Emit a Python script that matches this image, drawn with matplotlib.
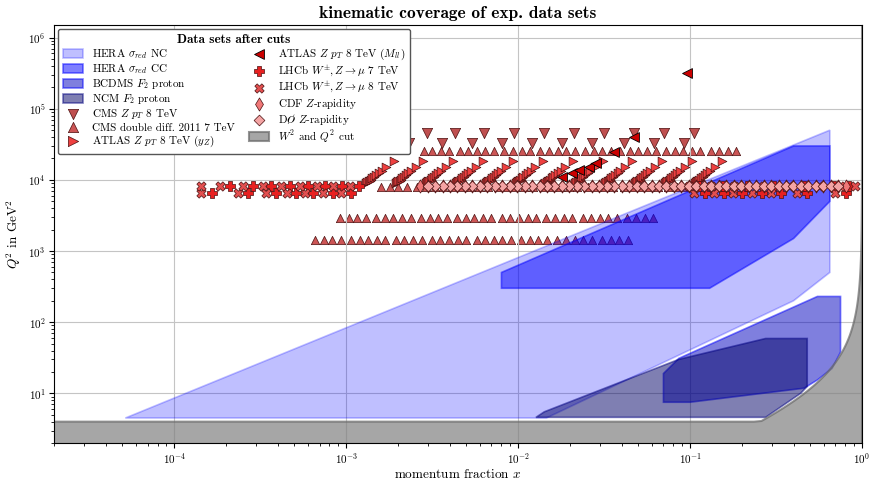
import numpy as np
import matplotlib.pyplot as plt

plt.rcParams['font.family'] = ['cmr10', 'DejaVu Serif']
plt.rcParams['mathtext.fontset'] = 'cm'
plt.rcParams['axes.formatter.use_mathtext'] = True

# ---- DIS coverage regions: polygon corners in (x, Q2) ----
hera_nc_x = [5.2e-5, 1.46e-2, 0.40, 0.65, 0.65]
hera_nc_q2 = [4.5, 4.5, 200, 500, 5.0e4]
hera_cc_x = [8.0e-3, 8.0e-3, 0.13, 0.40, 0.65, 0.65, 0.40]
hera_cc_q2 = [500, 300, 300, 1500, 5000, 3.0e4, 3.0e4]
bcdms_x = [0.07, 0.07, 0.10, 0.46, 0.55, 0.67, 0.75, 0.75, 0.55, 0.086]
bcdms_q2 = [19, 7.5, 7.5, 11.8, 15.4, 22.4, 38, 230, 230, 31]
nmc_x = [0.0127, 0.0142, 0.086, 0.275, 0.48, 0.48, 0.44, 0.275]
nmc_q2 = [4.6, 5.5, 30, 59, 59, 12.5, 10, 4.6]

# kinematic cuts
q2_cut = 4.0
w2_cut = 12.5
mp2 = 0.88

# ---- CMS double differential 2011 7 TeV (one row per mass bin) ----
cms2d_q2 = [1420, 2900, 7950, 25500]
cms2d_xc = [5.35e-3, 7.5e-3, 1.30e-2, 2.29e-2]
cms2d_dlog = [-0.91, -0.86, -0.81, -0.76, -0.70, -0.65, -0.60, -0.55, -0.50,
              -0.44, -0.39, -0.34, -0.29, -0.23, -0.18, -0.13, -0.08, -0.03,
              0.03, 0.08, 0.13, 0.18, 0.23, 0.29, 0.34, 0.39, 0.44, 0.50,
              0.55, 0.60, 0.65, 0.70, 0.76, 0.81, 0.86, 0.91]

# ---- CMS Z pT 8 TeV ----
cms_pt_x_hi = [1.99e-3, 2.97e-3, 4.32e-3, 6.37e-3, 9.51e-3, 1.42e-2, 2.12e-2,
               3.16e-2, 4.72e-2, 7.05e-2, 1.05e-1]
cms_pt_x_lo = [1.56e-3, 2.33e-3, 3.63e-3, 5.42e-3, 8.09e-3, 1.21e-2, 1.81e-2,
               2.70e-2, 4.14e-2, 6.18e-2, 9.23e-2]
cms_pt_q2 = [4.53e4, 3.27e4]

# ---- ATLAS Z pT 8 TeV (y_Z): one streak per rapidity bin ----
atlas_yz_x0 = [1.265e-3, 1.884e-3, 2.81e-3, 4.20e-3, 6.27e-3, 9.33e-3,
               1.393e-2, 2.075e-2, 3.10e-2, 4.62e-2, 6.90e-2, 1.028e-1]
atlas_yz_q2 = [8900, 9200, 9500, 9800, 10100, 10500, 11000, 11650, 12400,
               13400, 15200, 18500]
atlas_yz_shift = [1.035, 1.052, 1.069, 1.086, 1.102, 1.124, 1.150, 1.184,
                  1.221, 1.269, 1.352, 1.492]

# ---- ATLAS Z pT 8 TeV (M_ll) ----
atlas_mll_x = [0.0181, 0.0206, 0.0226, 0.0259, 0.0284, 0.0362, 0.0472, 0.096]
atlas_mll_q2 = [11000, 12300, 13650, 15070, 17200, 24500, 39800, 3.16e5]

# ---- LHCb W/Z -> mu ----
lhcb_q2_w = 6464
lhcb_q2_z = 8315
lhcb7_w_x = [1.65e-4, 2.69e-4, 3.93e-4, 5.14e-4, 6.41e-4, 8.38e-4, 1.07e-3,
             0.122, 0.157, 0.201, 0.261, 0.336, 0.480, 0.802]
lhcb7_z_x = [2.10e-4, 2.88e-4, 3.68e-4, 4.70e-4, 6.00e-4, 7.50e-4, 9.42e-4,
             1.18e-3, 0.113, 0.155, 0.214, 0.307, 0.458, 0.685, 0.838]
lhcb8_w_x = [1.44e-4, 2.36e-4, 3.44e-4, 4.50e-4, 5.74e-4, 7.33e-4, 9.38e-4,
             0.105, 0.138, 0.177, 0.230, 0.294, 0.420, 0.701]
lhcb8_z_x = [1.44e-4, 1.84e-4, 2.52e-4, 3.29e-4, 4.20e-4, 5.37e-4, 6.73e-4,
             8.34e-4, 1.05e-3, 0.0986, 0.132, 0.180, 0.251, 0.375, 0.561,
             0.740, 0.916]

# ---- Tevatron Z rapidity ----
tev_q2 = 8315
tev_xc = 0.0465
cdf_dlog = [0.022, 0.065, 0.109, 0.152, 0.195, 0.239, 0.282, 0.326, 0.369,
            0.412, 0.456, 0.499, 0.543, 0.586, 0.630, 0.673, 0.716, 0.760,
            0.803, 0.847, 0.890, 0.934, 0.977, 1.020, 1.064, 1.107, 1.151,
            1.194, 1.238]
d0_dlog = [0.022, 0.065, 0.109, 0.152, 0.195, 0.239, 0.282, 0.326, 0.369,
           0.412, 0.456, 0.499, 0.543, 0.586, 0.630, 0.673, 0.716, 0.760,
           0.803, 0.847, 0.890, 0.934, 0.977, 1.020, 1.064, 1.107, 1.151,
           1.194]

fig = plt.figure(figsize=(8.71, 4.79), dpi=100)
ax = fig.add_axes([0.062, 0.075, 0.9277, 0.8727])

edge = '#4a1010'

# CMS 2D sits underneath the DIS regions
for q2, xc in zip(cms2d_q2, cms2d_xc):
    xs = xc * 10 ** np.array(cms2d_dlog)
    ax.scatter(xs, np.full(len(xs), q2), marker='^', s=36, c='#cc5555',
               edgecolors=edge, linewidths=0.5, zorder=1)

# DIS regions
ax.fill(hera_nc_x, hera_nc_q2, facecolor='blue', edgecolor='blue', alpha=0.25,
        lw=1.2, zorder=2, label=r'HERA $\sigma_{red}$ NC')
ax.fill(hera_cc_x, hera_cc_q2, facecolor='blue', edgecolor='blue', alpha=0.5,
        lw=1.2, zorder=2, label=r'HERA $\sigma_{red}$ CC')
ax.fill(bcdms_x, bcdms_q2, facecolor=(0, 0, 0.75), edgecolor='blue', alpha=0.5,
        lw=1.2, zorder=2, label=r'BCDMS $F_2$ proton')
ax.fill(nmc_x, nmc_q2, facecolor=(0, 0, 0.4), edgecolor='navy', alpha=0.5,
        lw=1.2, zorder=2, label=r'NCM $F_2$ proton')

# CMS Z pT
ax.scatter(cms_pt_x_hi, [cms_pt_q2[0]] * len(cms_pt_x_hi), marker='v', s=55,
           c='#bf4f4f', edgecolors=edge, linewidths=0.5, zorder=3,
           label=r'CMS $Z$ $p_T$ 8 TeV')
ax.scatter(cms_pt_x_lo, [cms_pt_q2[1]] * len(cms_pt_x_lo), marker='v', s=55,
           c='#bf4f4f', edgecolors=edge, linewidths=0.5, zorder=3)
# legend proxy for CMS 2D
ax.scatter([], [], marker='^', s=55, c='#cc5555', edgecolors=edge,
           linewidths=0.5, label='CMS double diff. 2011 7 TeV')

# ATLAS y_Z streaks
for x0 in atlas_yz_x0:
    ax.scatter(x0 * np.array(atlas_yz_shift), atlas_yz_q2, marker='>', s=40,
               c='#ee4040', edgecolors=edge, linewidths=0.5, zorder=3)
ax.scatter([], [], marker='>', s=55, c='#ee4040', edgecolors=edge,
           linewidths=0.5, label=r'ATLAS $Z$ $p_T$ 8 TeV $(y_Z)$')

ax.scatter(atlas_mll_x, atlas_mll_q2, marker='<', s=50, c='#cc0000',
           edgecolors='k', linewidths=0.6, zorder=4,
           label=r'ATLAS $Z$ $p_T$ 8 TeV $(M_{ll})$')

ax.scatter(lhcb7_w_x + lhcb7_z_x,
           [lhcb_q2_w] * len(lhcb7_w_x) + [lhcb_q2_z] * len(lhcb7_z_x),
           marker='P', s=45, c='#e82020', edgecolors=edge, linewidths=0.5,
           zorder=4, label=r'LHCb $W^{\pm},Z \rightarrow \mu$ 7 TeV')
ax.scatter(lhcb8_w_x + lhcb8_z_x,
           [lhcb_q2_w] * len(lhcb8_w_x) + [lhcb_q2_z] * len(lhcb8_z_x),
           marker='X', s=45, c='#e35050', edgecolors=edge, linewidths=0.5,
           zorder=4, label=r'LHCb $W^{\pm},Z \rightarrow \mu$ 8 TeV')

cdf_x = tev_xc * 10 ** np.concatenate([-np.array(cdf_dlog), cdf_dlog])
d0_x = tev_xc * 10 ** np.concatenate([-np.array(d0_dlog), d0_dlog])
ax.scatter(cdf_x, np.full(len(cdf_x), tev_q2), marker='d', s=45, c='#f07878',
           edgecolors=edge, linewidths=0.5, zorder=5, label=r'CDF $Z$-rapidity')
ax.scatter(d0_x, np.full(len(d0_x), tev_q2), marker='D', s=30, c='#f4a4a4',
           edgecolors=edge, linewidths=0.5, zorder=5,
           label=r'D$\O$ $Z$-rapidity')

# W2 / Q2 cut
xs = np.concatenate([np.logspace(-4.7, -0.5, 100),
                     1 - np.logspace(np.log10(1 - 10 ** -0.5), -8, 400)])
cut = np.maximum(q2_cut, (w2_cut - mp2) * xs / (1 - xs))
ax.fill_between(xs, 1, np.minimum(cut, 1e8), facecolor='gray',
                edgecolor='dimgray', alpha=0.7, lw=1.5, zorder=2,
                label=r'$W^2$ and $Q^2$ cut')

ax.set_xscale('log')
ax.set_yscale('log')
ax.set_xlim(2e-5, 1)
ax.set_ylim(2, 1.5e6)
ax.grid(True, which='major', color='#c4c4c4', lw=0.8)
ax.tick_params(which='major', length=3.5, labelsize=8, pad=2.5)
ax.tick_params(which='minor', length=2)
ax.set_xlabel(r'momentum fraction $x$', fontsize=9.5, labelpad=1)
ax.set_ylabel(r'$Q^2$ in GeV$^2$', fontsize=9.5, labelpad=4)
ax.set_title('kinematic coverage of exp. data sets', fontsize=12.5,
             fontfamily='cmb10', pad=5)

leg = ax.legend(loc='upper left', ncol=2, fontsize=8, scatterpoints=1,
                title='Data sets after cuts', labelspacing=0.1,
                handleheight=0.8, handlelength=1.8, columnspacing=1.3,
                framealpha=1, edgecolor='#555555', borderaxespad=0.35,
                borderpad=0.45)
leg.get_title().set_fontfamily('cmb10')
leg.get_title().set_fontsize(9.5)
leg.set_zorder(10)

fig.savefig('out.png', dpi=100)
